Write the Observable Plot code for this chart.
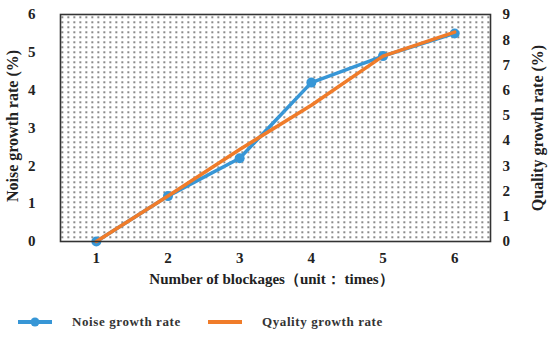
<!DOCTYPE html>
<html>
<head>
<meta charset="utf-8">
<script src="https://cdn.jsdelivr.net/npm/d3@7"></script>
<script src="https://cdn.jsdelivr.net/npm/@observablehq/plot@0.6"></script>
<style>
  html, body { margin: 0; padding: 0; background: #fff; }
  #wrap { position: relative; width: 550px; height: 339px; font-family: "Liberation Serif", "Times New Roman", serif; }
  #legend { position: absolute; left: 0; top: 310px; width: 550px; height: 24px; font-size: 13px; font-weight: bold; color: #333; }
  .item { position: absolute; top: 0; display: flex; align-items: center; height: 24px; }
  .item span { margin-left: 20px; letter-spacing: 0.6px; }
</style>
</head>
<body>
<div id="wrap">
  <div id="chart"></div>
  <div id="legend"></div>
</div>
<script>
const blockages = [1, 2, 3, 4, 5, 6];
const noiseRate = [0, 1.2, 2.2, 4.2, 4.9, 5.5];
const qualityRate = [0, 1.8, 3.65, 5.4, 7.35, 8.3];
const leftTicks = [0, 1, 2, 3, 4, 5, 6];
const rightTicks = [0, 1, 2, 3, 4, 5, 6, 7, 8, 9];
const seriesNames = ["Noise growth rate", "Qyality growth rate"];
const axisTitles = ["Number of blockages（unit： times）", "Noise growth rate (%)", "Quality growth rate (%)"];
const colors = ["#3796d6", "#f07c2a"];

const scaleQ = 6 / 9;
const noiseData = blockages.map((b, i) => ({x: b, y: noiseRate[i]}));
const qualityData = blockages.map((b, i) => ({x: b, y: qualityRate[i] * scaleQ}));

const font = "'Liberation Serif', 'Times New Roman', serif";

const plot = Plot.plot({
  width: 550,
  height: 295,
  marginLeft: 60,
  marginRight: 60,
  marginTop: 14,
  marginBottom: 54,
  style: {fontFamily: font, fontSize: "15px", fontWeight: "bold", color: "#222", background: "transparent"},
  x: {domain: [0.5, 6.5]},
  y: {domain: [0, 6]},
  marks: [
    Plot.frame({fill: "url(#dots)", stroke: "none"}),
    Plot.axisX({ticks: blockages, tickSize: 0, tickPadding: 11, tickFormat: d => d, label: null, fontSize: 15}),
    Plot.axisY({ticks: leftTicks, tickSize: 0, tickPadding: 25, tickFormat: d => d, label: null, fontSize: 15}),
    Plot.axisY({anchor: "right", ticks: rightTicks.map(t => t * scaleQ), tickSize: 0, tickPadding: 12,
      tickFormat: d => Math.round(d / scaleQ), label: null, fontSize: 15}),
    Plot.text([axisTitles[0]], {frameAnchor: "bottom", dy: 42, dx: -4, text: d => d, textAnchor: "middle", fontSize: 15, fontWeight: "bold", fill: "#222"}),
    Plot.text([axisTitles[1]], {frameAnchor: "left", dx: -48, dy: -2, rotate: -90, text: d => d, textAnchor: "middle", fontSize: 16, fontWeight: "bold", fill: "#222"}),
    Plot.text([axisTitles[2]], {frameAnchor: "right", dx: 47, dy: 0, rotate: -90, text: d => d, textAnchor: "middle", fontSize: 16, fontWeight: "bold", fill: "#222"}),
    Plot.line(noiseData, {x: "x", y: "y", stroke: colors[0], strokeWidth: 3.5}),
    Plot.dot(noiseData, {x: "x", y: "y", fill: colors[0], r: 5}),
    Plot.line(qualityData, {x: "x", y: "y", stroke: colors[1], strokeWidth: 3.5}),
    Plot.frame({stroke: "#333", strokeWidth: 1.6})
  ]
});

const svg = d3.select(plot);
const defs = svg.insert("defs", ":first-child");
const pat = defs.append("pattern").attr("id", "dots").attr("patternUnits", "userSpaceOnUse")
  .attr("width", 6).attr("height", 5);
pat.append("rect").attr("width", 6).attr("height", 5).attr("fill", "#fff");
pat.append("rect").attr("x", 1).attr("y", 1).attr("width", 1.5).attr("height", 1.4).attr("fill", "#222");
document.getElementById("chart").appendChild(plot);

// legend
const legend = d3.select("#legend");
const positions = [18, 208];
seriesNames.forEach((name, i) => {
  const item = legend.append("div").attr("class", "item").style("left", positions[i] + "px");
  const s = item.append("svg").attr("width", 34).attr("height", 12);
  s.append("line").attr("x1", 0).attr("x2", 34).attr("y1", 6).attr("y2", 6)
    .attr("stroke", colors[i]).attr("stroke-width", 4);
  if (i === 0) s.append("circle").attr("cx", 17).attr("cy", 6).attr("r", 4.5).attr("fill", colors[i]);
  item.append("span").text(name);
});
</script>
</body>
</html>
